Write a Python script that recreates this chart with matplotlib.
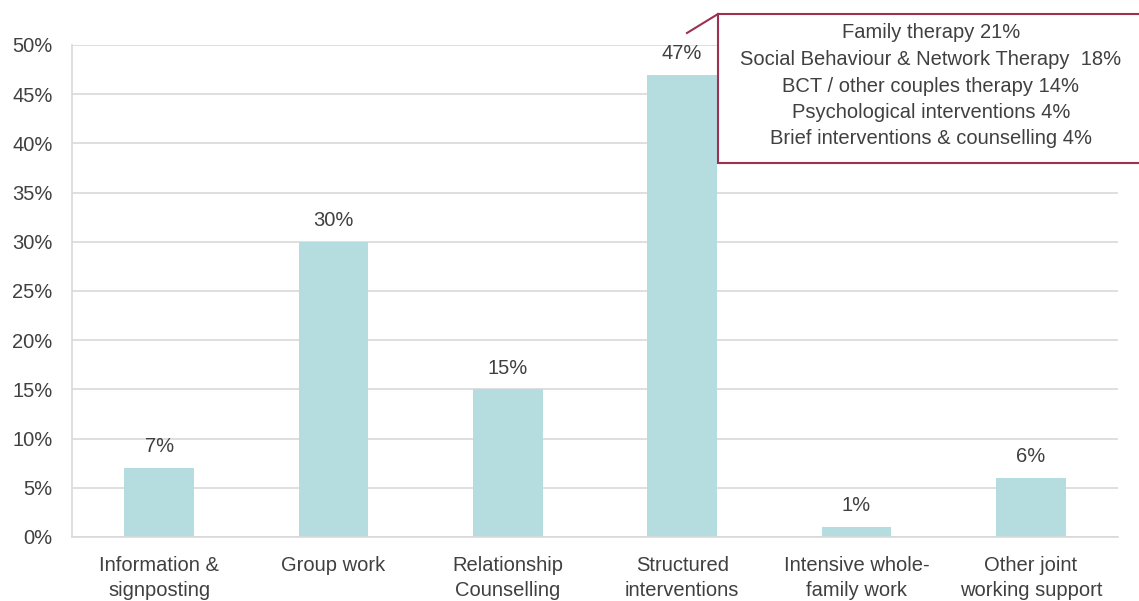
import matplotlib.pyplot as plt
from matplotlib.patches import Rectangle
from matplotlib.lines import Line2D
from matplotlib.ticker import FuncFormatter

plt.rcParams['font.family'] = ['Liberation Sans', 'DejaVu Sans']

categories = ['Information &\nsignposting', 'Group work', 'Relationship\nCounselling',
              'Structured\ninterventions', 'Intensive whole-\nfamily work',
              'Other joint\nworking support']
values = [7, 30, 15, 47, 1, 6]
callout_lines = ['Family therapy 21%',
                 'Social Behaviour & Network Therapy  18%',
                 'BCT / other couples therapy 14%',
                 'Psychological interventions 4%',
                 'Brief interventions & counselling 4%']

W, H = 1139, 601
fig = plt.figure(figsize=(W / 100, H / 100), dpi=100)
ax = fig.add_axes([72 / W, (H - 537) / H, 1046 / W, 492 / H])

bar_color = '#B5DDE0'
text_color = '#404040'
fs = 14.5
ax.bar(range(len(values)), values, width=0.4, color=bar_color, zorder=2)
for i, v in enumerate(values):
    ax.text(i, v + 1.2, f'{v}%', ha='center', va='bottom', fontsize=fs, color=text_color)

ax.set_xlim(-0.5, len(values) - 0.5)
ax.set_ylim(0, 50)
ax.set_yticks(range(0, 51, 5))
ax.yaxis.set_major_formatter(FuncFormatter(lambda y, _: f'{int(y)}%'))
ax.set_xticks(range(len(values)))
ax.set_xticklabels(categories, fontsize=fs, color=text_color, linespacing=1.4)
ax.tick_params(axis='y', labelsize=fs, labelcolor=text_color, length=0, pad=14)
ax.tick_params(axis='x', length=0, pad=14)
ax.grid(axis='y', color='#D9D9D9', lw=1.2, zorder=0)
for s in ['top', 'right']:
    ax.spines[s].set_visible(False)
ax.spines['left'].set_color('#D9D9D9')
ax.spines['bottom'].set_color('#D9D9D9')
ax.spines['left'].set_linewidth(1.2)
ax.spines['bottom'].set_linewidth(1.2)

# callout box
bx0, by0, by1 = 718, 14, 163
edge = '#9E3050'
fig.patches.append(Rectangle((bx0 / W, 1 - by1 / H), (W + 20 - bx0) / W, (by1 - by0) / H,
                             transform=fig.transFigure, facecolor='white', edgecolor=edge,
                             lw=1.5, zorder=5))
fig.lines.append(Line2D([687 / W, bx0 / W], [1 - 33 / H, 1 - by0 / H],
                        transform=fig.transFigure, color=edge, lw=1.5, zorder=5))
for k, line in enumerate(callout_lines):
    fig.text(931 / W, 1 - (33 + 26.5 * k) / H, line, ha='center', va='center',
             fontsize=fs, color=text_color, zorder=6)

fig.savefig('out.png', dpi=100)
